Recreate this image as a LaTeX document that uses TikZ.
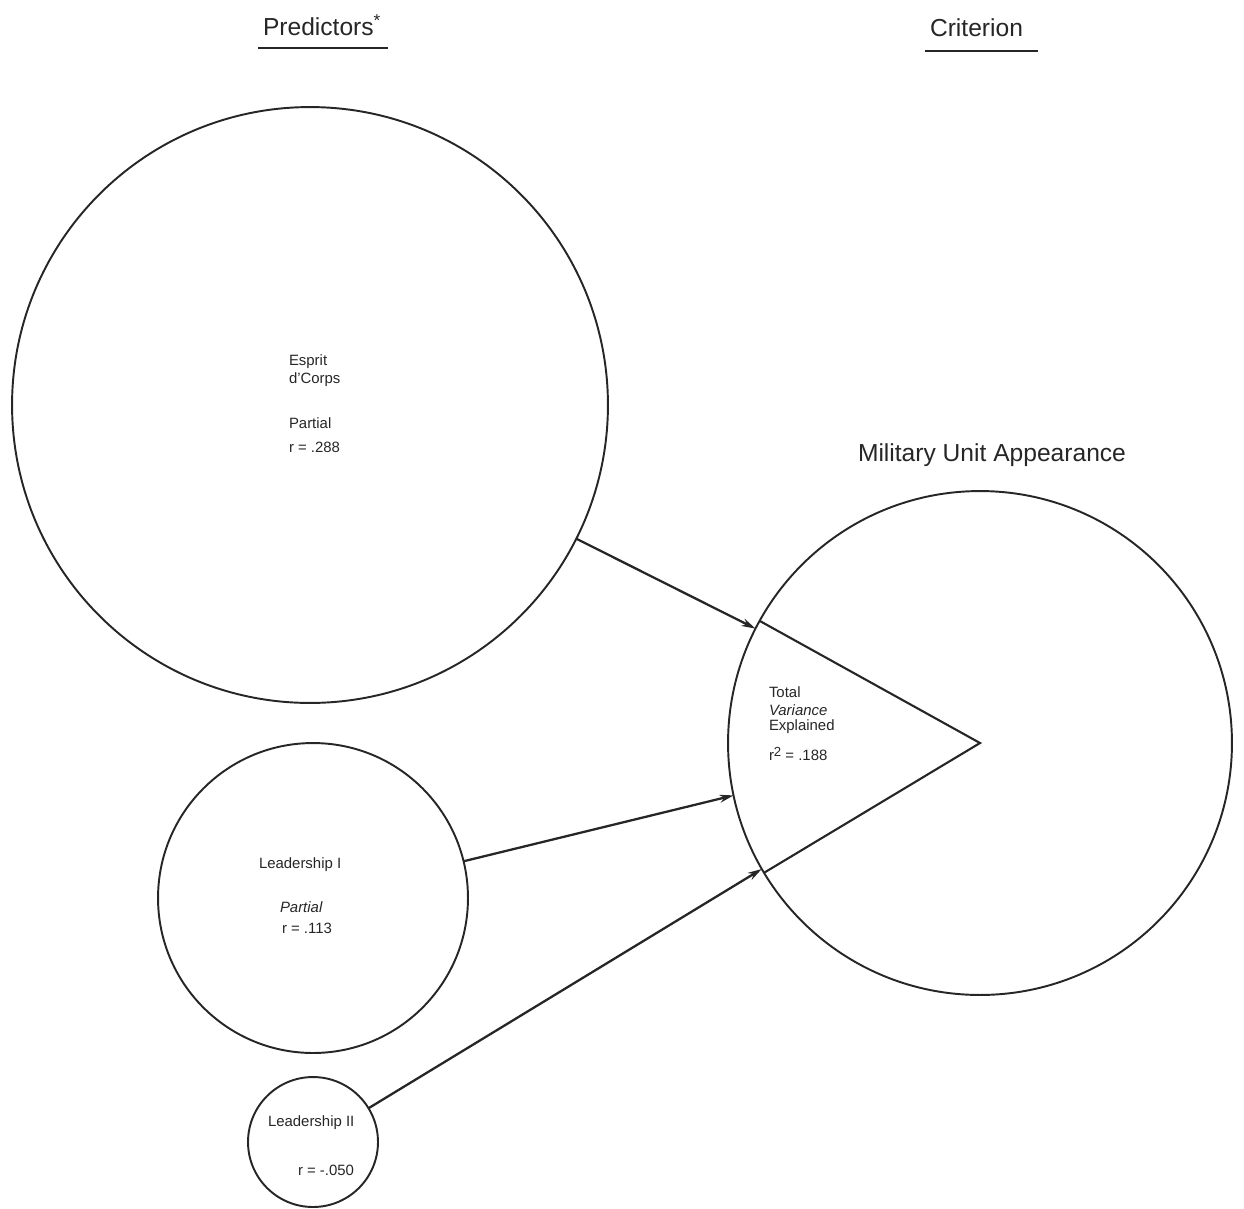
\documentclass[tikz,border=0pt]{standalone}
\usepackage{fontspec}
\setmainfont{Liberation Sans}
\usepackage{tikz}
\usetikzlibrary{arrows.meta, positioning}

\begin{document}
\begin{tikzpicture}[
        x=0.02cm, y=-0.02cm,
        every node/.style={inner sep=0pt, outer sep=0pt, text=black!85},
        unit/.style={circle, draw=black!85, line width=1.1pt},
        small/.style={anchor=west, font=\fontsize{8.5}{10}\selectfont},
        head/.style={font=\fontsize{14}{16}\selectfont},
        link/.style={draw=black!85, line width=1.3pt, -{Stealth[length=8pt, width=4.5pt]}}
    ]
        \useasboundingbox (0,0) rectangle (1244,1208);

        % Headings
        \node [head, anchor=west] (pred) at (263,25) {Predictors\textsuperscript{*}};
        \node [head, anchor=west] (crit) at (930,28) {Criterion};
        \draw [black!85, line width=0.6pt] (258,48) -- (388,48);
        \draw [black!85, line width=0.6pt] (925,51) -- (1038,51);

        % Predictor circles
        \node [unit, minimum size=11.92cm] (esprit) at (310,405) {};
        \node [unit, minimum size=6.2cm] (lead1) at (313,898) {};
        \node [unit, minimum size=2.6cm] (lead2) at (313,1142) {};

        % Criterion circle
        \node [unit, minimum size=10.08cm] (appear) at (980,743) {};
        \node [head] (appeartitle) at (992,455) {Military Unit Appearance};

        % Texts
        \node [small] (e1) at (289,362) {Esprit};
        \node [small] (e2) at (289,380) {d'Corps};
        \node [small] (e3) at (289,423) {Partial};
        \node [small] (e4) at (289,447) {r = .288};

        \node [small] (l1a) at (259,865) {Leadership I};
        \node [small] (l1b) at (280,907) {\textit{Partial}};
        \node [small] (l1c) at (282,928) {r = .113};

        \node [small] (l2a) at (268,1123) {Leadership II};
        \node [small] (l2b) at (298,1170) {r = -.050};

        \node [small] (t1) at (769,692) {Total};
        \node [small] (t2) at (769,710) {\textit{Variance}};
        \node [small] (t3) at (769,727) {Explained};
        \node [small] (t4) at (769,754) {r\raisebox{0.45ex}{\fontsize{7.5}{8}\selectfont 2} = .188};

        % Wedge of explained variance
        \draw [black!85, line width=1.2pt] (appear.151) -- (appear.center) -- (appear.211);

        % Links to the criterion
        \draw [link] (esprit) -- (appear.153.5);
        \draw [link] (lead1) -- (appear.192.7);
        \draw [link] (lead2) -- (appear.210.6);
    \end{tikzpicture}
\end{document}
